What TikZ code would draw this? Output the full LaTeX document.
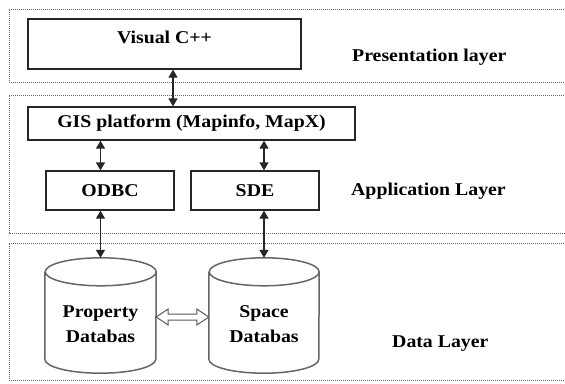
\documentclass[tikz,border=0pt]{standalone}
\usepackage{fontspec}
\setmainfont{Liberation Serif}[FakeStretch=1.1]
\usetikzlibrary{arrows.meta,calc}
\newcommand\lblfont{\fontsize{18}{25}\selectfont\bfseries}
\newcommand\drawcyl[2]{%
  \draw[cyl] ([yshift=-14pt]#1.north west) -- ([yshift=14pt]#1.south west)
    arc[start angle=180,end angle=360,x radius=#2,y radius=14pt]
    -- ([yshift=-14pt]#1.north east)
    arc[start angle=0,end angle=360,x radius=#2,y radius=14pt];}
\begin{document}
\begin{tikzpicture}[x=1pt,y=-1pt,
  lay/.style={draw=black!60, line width=0.9pt, dash pattern=on 1.1pt off 0.9pt},
  box/.style={draw=black!85, line width=1.3pt, inner sep=0pt, font=\lblfont},
  txt/.style={inner sep=0pt, font=\lblfont},
  frame/.style={inner sep=0pt, draw=none},
  cyl/.style={draw=black!60, line width=1.5pt},
  arr/.style={line width=1.3pt, draw=black!85, {Triangle[width=9pt,length=8pt]}-{Triangle[width=9pt,length=8pt]}},
  hollow/.style={draw=black!65, line width=1pt, fill=white}]
\useasboundingbox (0,0) rectangle (565,383);
\clip (0,0) rectangle (565,383);
% layers
\draw[lay] (570,9) -- (9,9) -- (9,82) -- (570,82);
\draw[lay] (570,95) -- (9,95) -- (9,233) -- (570,233);
\draw[lay] (570,243) -- (9,243) -- (9,380) -- (570,380);
% boxes
\node[box, minimum width=273pt, minimum height=50pt, text height=13pt, text depth=15pt] (vc) at (164.5,44) {Visual C++};
\node[box, minimum width=327pt, minimum height=33pt] (gis) at (191.5,123.5) {GIS platform (Mapinfo, MapX)};
\node[box, minimum width=128pt, minimum height=39pt] (odbc) at (110,190.5) {ODBC};
\node[box, minimum width=128pt, minimum height=39pt] (sde) at (255,190.5) {SDE};
% cylinders
\node[frame, minimum width=111pt, minimum height=115pt] (prop) at (100.5,315.5) {};
\node[frame, minimum width=110pt, minimum height=115pt] (space) at (264,315.5) {};
\drawcyl{prop}{55.5pt}
\drawcyl{space}{55pt}
\node[txt, align=center] (proptxt) at ([yshift=-9pt]prop.center) {Property\\Databas};
\node[txt, align=center] (spacetxt) at ([yshift=-9pt]space.center) {Space\\Databas};
% arrows
\coordinate (va) at ([xshift=8.5pt]vc.south);
\draw[arr] (va) -- (va |- gis.north);
\draw[arr] (prop.north |- gis.south) -- (prop.north |- odbc.north);
\draw[arr] (prop.north |- odbc.south) -- (prop.north);
\draw[arr] (space.north |- gis.south) -- (space.north |- sde.north);
\draw[arr] (space.north |- sde.south) -- (space.north);
% hollow double arrow
\coordinate (ha) at ([yshift=-1.5pt]prop.east);
\coordinate (hb) at ([yshift=-1.5pt]space.west);
\draw[hollow] (ha) -- ++(12,-8) -- ++(0,5) -- ($(hb)+(-12,-3)$) -- ++(0,-5) -- (hb)
  -- ++(-12,8) -- ++(0,-5) -- ($(ha)+(12,3)$) -- ++(0,5) -- cycle;
% layer labels
\node[txt, anchor=base west] (pl) at (352,61) {Presentation layer};
\node[txt, anchor=base west] (al) at (351,195) {Application Layer};
\node[txt, anchor=base west] (dl) at (392,347) {Data Layer};
\end{tikzpicture}
\end{document}
